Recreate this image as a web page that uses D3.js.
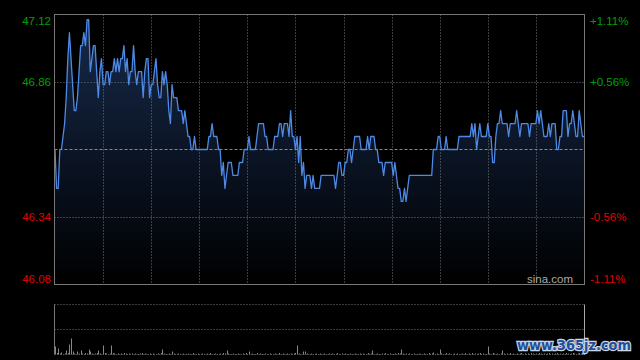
<!DOCTYPE html>
<html><head><meta charset="utf-8">
<script src="https://cdn.jsdelivr.net/npm/d3@7"></script>
<style>html,body{margin:0;padding:0;background:#000;overflow:hidden}svg{display:block}</style>
</head><body><svg id="c" width="640" height="360"></svg>
<script>
// ---- data (HK intraday, 1-minute, 330 minutes) ----
const prevClose = 46.60;
const priceTicks = [47.12, 46.86, 46.60, 46.34, 46.08];
const priceLabels = ["47.12", "46.86", "", "46.34", "46.08"];
const pctLabels = ["+1.11%", "+0.56%", "", "-0.56%", "-1.11%"];
const timeGridMinutes = [0, 30, 60, 90, 120, 150, 180, 210, 240, 270, 300, 330];
const prices = [
46.60,46.45,46.45,46.60,46.60,46.65,46.70,46.80,46.95,47.05,
46.95,46.85,46.75,46.75,46.80,46.90,47.00,47.00,47.05,47.00,
47.10,47.10,46.90,46.95,47.00,47.00,46.90,46.80,46.90,46.95,
46.85,46.85,46.90,46.90,46.85,46.90,46.90,46.95,46.90,46.95,
46.90,46.95,46.95,47.00,46.90,46.95,46.85,46.90,46.90,47.00,
46.90,46.85,46.90,46.90,46.90,46.80,46.90,46.95,46.95,46.80,
46.85,46.85,46.90,46.95,46.85,46.80,46.80,46.90,46.85,46.90,
46.85,46.75,46.70,46.85,46.80,46.80,46.80,46.75,46.75,46.75,
46.70,46.75,46.70,46.65,46.65,46.60,46.60,46.65,46.60,46.60,
46.60,46.60,46.60,46.60,46.60,46.60,46.65,46.65,46.70,46.65,
46.65,46.65,46.60,46.60,46.50,46.55,46.45,46.50,46.55,46.55,
46.55,46.50,46.50,46.50,46.50,46.55,46.55,46.55,46.60,46.60,
46.60,46.65,46.60,46.60,46.60,46.60,46.65,46.70,46.70,46.70,
46.70,46.65,46.65,46.60,46.60,46.60,46.60,46.65,46.65,46.65,
46.70,46.70,46.65,46.70,46.70,46.70,46.65,46.75,46.65,46.65,
46.60,46.65,46.55,46.65,46.50,46.55,46.45,46.50,46.50,46.50,
46.45,46.50,46.45,46.45,46.45,46.45,46.50,46.50,46.50,46.50,
46.50,46.50,46.50,46.50,46.50,46.45,46.50,46.55,46.55,46.50,
46.50,46.55,46.55,46.60,46.60,46.55,46.60,46.65,46.65,46.65,
46.65,46.60,46.60,46.60,46.60,46.65,46.60,46.65,46.65,46.65,
46.60,46.60,46.55,46.55,46.55,46.50,46.55,46.55,46.55,46.55,
46.55,46.50,46.55,46.50,46.45,46.45,46.40,46.40,46.45,46.40,
46.45,46.50,46.50,46.50,46.50,46.50,46.50,46.50,46.50,46.50,
46.50,46.50,46.50,46.50,46.50,46.50,46.60,46.60,46.60,46.65,
46.65,46.60,46.60,46.60,46.65,46.60,46.60,46.60,46.60,46.60,
46.60,46.60,46.65,46.65,46.65,46.65,46.65,46.65,46.65,46.65,
46.70,46.65,46.70,46.60,46.65,46.70,46.65,46.65,46.65,46.65,
46.70,46.65,46.65,46.55,46.55,46.65,46.70,46.70,46.75,46.70,
46.70,46.70,46.70,46.65,46.70,46.70,46.70,46.70,46.75,46.70,
46.65,46.70,46.70,46.70,46.70,46.70,46.65,46.70,46.70,46.70,
46.70,46.75,46.70,46.75,46.70,46.65,46.65,46.65,46.70,46.65,
46.70,46.70,46.70,46.60,46.60,46.65,46.65,46.75,46.75,46.75,
46.65,46.70,46.70,46.75,46.70,46.65,46.65,46.75,46.70,46.65,46.65
];
const volumes = [
16,3,12,2,4,1,2,8,3,20,
32,6,2,1,6,2,8,2,1,3,
2,10,6,2,1,2,3,8,2,1,
18,3,2,1,2,18,3,2,1,2,
1,2,1,3,2,1,2,1,2,1,
2,1,1,2,3,1,2,1,1,2,
1,2,1,1,2,1,3,10,2,1,
1,2,1,6,2,1,1,2,1,1,
2,1,1,2,1,1,3,1,1,2,
1,1,2,1,1,2,1,3,1,1,
2,1,1,2,1,3,2,8,2,1,
1,2,1,1,2,1,1,2,1,3,
1,6,1,2,1,1,3,1,2,1,
1,2,1,1,2,1,1,2,1,1,
3,1,2,1,1,2,1,2,1,2,
3,18,2,1,1,6,6,2,1,1,
2,1,1,2,1,2,1,1,2,1,
1,2,1,2,1,1,3,1,1,2,
1,2,1,1,2,1,1,2,1,1,
2,1,2,1,1,3,1,2,8,1,
1,2,1,1,2,1,3,1,1,2,
1,1,2,1,3,2,10,2,1,2,
1,2,1,1,2,1,1,2,1,1,
2,1,1,3,1,2,4,1,2,1,
10,2,1,1,3,1,2,1,1,2,
1,2,1,1,2,1,3,1,2,1,
3,1,2,1,2,3,1,2,1,1,
16,2,1,3,2,1,2,1,2,8,
2,1,2,1,3,1,2,1,2,1,
2,3,1,2,1,2,1,3,2,1,
2,1,3,2,1,2,1,2,3,1,
2,1,2,3,1,2,1,2,1,3,
2,1,2,3,2,1,2,3,2,2,4
];
const volMax = 100;

// ---- layout ----
const L = 54.5, R = 584.5, T = 14.5, B = 284.5;
const VT = 304.5, VB = 354.5, VM = 329.5;
const svg = d3.select("#c");
svg.append("rect").attr("width",640).attr("height",360).attr("fill","#000");

const x = d3.scaleLinear().domain([0, 330]).range([55, 584]);
const y = d3.scaleLinear().domain([46.08, 47.12]).range([B, T]);
const yv = d3.scaleLinear().domain([0, volMax]).range([VB, VT]);

const defs = svg.append("defs");
const grad = defs.append("linearGradient").attr("id","g").attr("gradientUnits","userSpaceOnUse")
  .attr("x1",0).attr("y1",T).attr("x2",0).attr("y2",B);
grad.append("stop").attr("offset","0%").attr("stop-color","#172a4c");
grad.append("stop").attr("offset","100%").attr("stop-color","#000000");

// area fill
svg.append("path").datum(prices)
  .attr("d", d3.area().x((d,i)=>x(i)).y0(B).y1(d=>y(d)))
  .attr("fill","url(#g)");

// horizontal grid
svg.selectAll("line.hg").data(priceTicks.filter(p=>p!==prevClose && p!==47.12 && p!==46.08)).enter().append("line")
  .attr("x1",L).attr("x2",R).attr("y1",d=>Math.round(y(d))+0.5).attr("y2",d=>Math.round(y(d))+0.5)
  .attr("stroke","#777").attr("stroke-dasharray","1,2");
// vertical grid
svg.selectAll("line.vg").data(timeGridMinutes.slice(1,-1)).enter().append("line")
  .attr("x1",d=>Math.round(x(d))+0.5).attr("x2",d=>Math.round(x(d))+0.5).attr("y1",T).attr("y2",B)
  .attr("stroke","#777").attr("stroke-dasharray","1,2");
// previous close line
svg.append("line").attr("x1",L).attr("x2",R)
  .attr("y1",Math.round(y(prevClose))+0.5).attr("y2",Math.round(y(prevClose))+0.5)
  .attr("stroke","#888").attr("stroke-dasharray","3,2");

// price line
svg.append("path").datum(prices)
  .attr("d", d3.line().x((d,i)=>x(i)).y(d=>y(d)))
  .attr("fill","none").attr("stroke","#4d8ae6").attr("stroke-width",1.3).attr("stroke-linejoin","round");

// frame
svg.append("rect").attr("x",L).attr("y",T).attr("width",R-L).attr("height",B-T)
  .attr("fill","none").attr("stroke","#777");

// labels
const lab = priceTicks.map((p,i)=>({p, t:priceLabels[i], pc:pctLabels[i], i}));
const off = d => d.i===0 ? 6 : (d.i===priceTicks.length-1 ? -6 : 0);
const col = d => d.p > prevClose ? "#00a000" : "#e00000";
svg.selectAll("text.l").data(lab.filter(d=>d.t)).enter().append("text")
  .attr("x",51).attr("y",d=>y(d.p)+off(d)).attr("dy","0.35em").attr("text-anchor","end")
  .attr("font-family","Liberation Sans, Arial, sans-serif").attr("font-size",11.5)
  .attr("fill",col).text(d=>d.t);
svg.selectAll("text.r").data(lab.filter(d=>d.pc)).enter().append("text")
  .attr("x",590).attr("y",d=>y(d.p)+off(d)).attr("dy","0.35em").attr("text-anchor","start")
  .attr("font-family","Liberation Sans, Arial, sans-serif").attr("font-size",11.5)
  .attr("fill",col).text(d=>d.pc);

svg.append("text").attr("x",573).attr("y",283).attr("text-anchor","end")
  .attr("font-family","Liberation Sans, Arial, sans-serif").attr("font-size",11.5)
  .attr("fill","#aaa").text("sina.com");

// volume panel
svg.append("line").attr("x1",L).attr("x2",R).attr("y1",VT).attr("y2",VT).attr("stroke","#777").attr("stroke-dasharray","1,2");
svg.append("line").attr("x1",L).attr("x2",R).attr("y1",VM).attr("y2",VM).attr("stroke","#777").attr("stroke-dasharray","1,2");
svg.append("line").attr("x1",L).attr("x2",R).attr("y1",VB).attr("y2",VB).attr("stroke","#555").attr("stroke-dasharray","1,2");
svg.append("line").attr("x1",L).attr("x2",L).attr("y1",VT).attr("y2",VB).attr("stroke","#777");
svg.append("line").attr("x1",R).attr("x2",R).attr("y1",VT).attr("y2",VB).attr("stroke","#aaa");
svg.selectAll("rect.v").data(volumes).enter().append("rect")
  .attr("x",(d,i)=>Math.round(x(i))).attr("width",1)
  .attr("y",d=>yv(d)).attr("height",d=>VB-yv(d)).attr("fill","#888");

// watermark
svg.append("text").attr("x",517).attr("y",350)
  .attr("font-family","DejaVu Sans, sans-serif").attr("font-weight","bold").attr("font-size",14)
  .attr("textLength",114).attr("lengthAdjust","spacingAndGlyphs")
  .attr("fill","#1f4f9a").attr("stroke","#c9d6e6").attr("stroke-width",2.5).attr("paint-order","stroke")
  .text("www.365jz.com");
</script></body></html>
